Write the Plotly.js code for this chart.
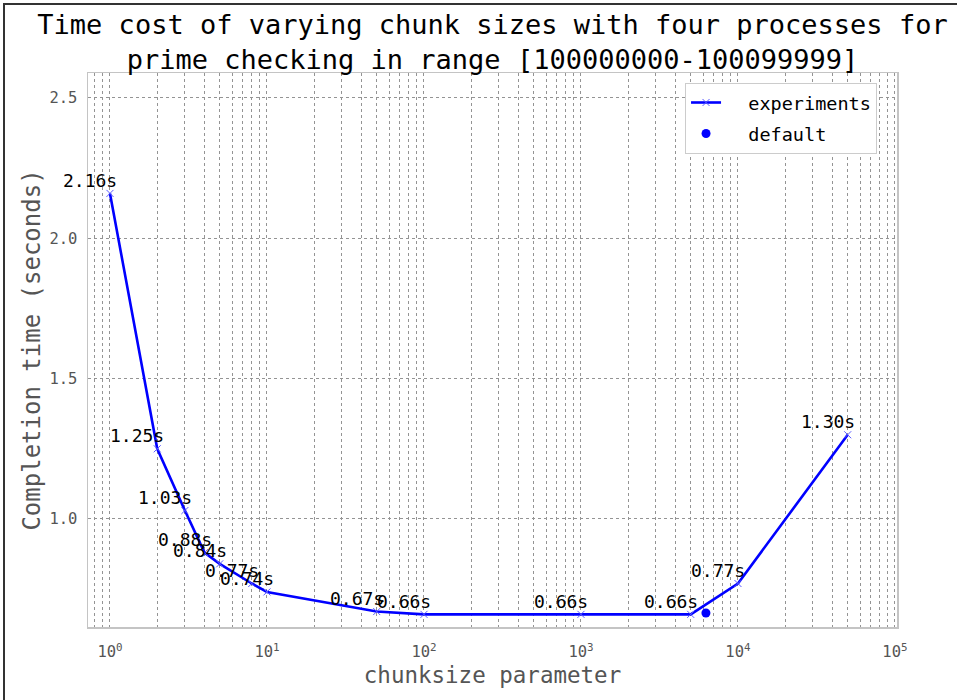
<!DOCTYPE html>
<html>
<head>
<meta charset="utf-8">
<script src="https://cdn.plot.ly/plotly-3.0.1.min.js"></script>
<style>
  html, body { margin: 0; padding: 0; background: #fff; }
  #chart { width: 957px; height: 700px; }
  #frame { position: absolute; left: 3px; top: 3px; width: 960px; height: 700px;
           border-left: 2px solid #333; border-top: 2px solid #333; pointer-events: none; }
</style>
</head>
<body>
<div id="chart"></div>
<div id="frame"></div>
<script>
// ---- data ----
const chunkSizes = [1, 2, 3, 4, 5, 8, 10, 50, 100, 1000, 5000, 10000, 50000];
const times = [2.16, 1.25, 1.03, 0.88, 0.84, 0.77, 0.74, 0.67, 0.66, 0.66, 0.66, 0.77, 1.30];
const defaultChunk = [6250];
const defaultTime = [0.665];
const seriesNames = ['experiments', 'default'];
const xTickVals = [1, 10, 100, 1000, 10000, 100000];
const xTickText = ['10<sup>0</sup>', '10<sup>1</sup>', '10<sup>2</sup>', '10<sup>3</sup>', '10<sup>4</sup>', '10<sup>5</sup>'];
const yTickVals = [1.0, 1.5, 2.0, 2.5];
const yTickText = ['1.0', '1.5', '2.0', '2.5'];

const mono = 'DejaVu Sans Mono, Liberation Mono, monospace';
const pad = '\u00a0\u00a0';

const traces = [
  {
    x: chunkSizes, y: times, type: 'scatter', mode: 'lines+markers', name: pad + seriesNames[0],
    legendgroup: 'a',
    line: { color: '#0000ff', width: 2.6 },
    marker: { symbol: 'x-thin', size: 7, color: '#5a5aff', line: { width: 1, color: '#5a5aff' } },
    cliponaxis: false
  },
  {
    x: defaultChunk, y: defaultTime, type: 'scatter', mode: 'markers', name: pad + seriesNames[1],
    legendgroup: 'b',
    marker: { symbol: 'circle', size: 9, color: '#0000ff' }
  }
];

const annotations = chunkSizes.map((c, i) => ({
  x: Math.log10(c), y: times[i], xref: 'x', yref: 'y',
  text: times[i].toFixed(2) + 's', showarrow: false,
  xshift: -20, yshift: 13,
  font: { family: mono, size: 18, color: '#000' }
}));

const gridCol = '#949494';
const layout = {
  width: 957, height: 700,
  paper_bgcolor: '#fff', plot_bgcolor: '#fff',
  margin: { l: 88, r: 60, t: 73, b: 73 },
  font: { family: mono, color: '#000' },
  title: {
    text: 'Time cost of varying chunk sizes with four processes for<br>prime checking in range [100000000-100099999]',
    font: { family: mono, size: 27, color: '#000' },
    x: 0.5, xref: 'paper', xanchor: 'center',
    y: 1 - 34 / 700, yref: 'container', yanchor: 'top'
  },
  xaxis: {
    type: 'log', range: [-0.14, 5.013],
    tickmode: 'array', tickvals: xTickVals, ticktext: xTickText,
    tickfont: { family: mono, size: 15.5, color: '#555' },
    ticks: '', ticklabelstandoff: 10,
    showgrid: true, gridcolor: gridCol, griddash: 'dot', gridwidth: 1,
    minor: { dtick: 'D1', showgrid: true, gridcolor: gridCol, griddash: 'dot', gridwidth: 1, ticks: '' },
    showline: true, linecolor: '#c4c4c4', linewidth: 1.5, mirror: true,
    zeroline: false,
    title: { text: 'chunksize parameter', font: { family: mono, size: 22.5, color: '#555' }, standoff: 7 }
  },
  yaxis: {
    range: [0.615, 2.589],
    tickmode: 'array', tickvals: yTickVals, ticktext: yTickText,
    tickfont: { family: mono, size: 15.5, color: '#555' },
    ticks: '', ticklabelstandoff: 6,
    showgrid: true, gridcolor: gridCol, griddash: 'dot', gridwidth: 1,
    showline: true, linecolor: '#c4c4c4', linewidth: 1.5, mirror: true,
    zeroline: false,
    title: { text: 'Completion time (seconds)', font: { family: mono, size: 24, color: '#555' }, standoff: 2 }
  },
  legend: {
    x: 0.738, y: 0.982, xanchor: 'left', yanchor: 'top',
    bgcolor: '#fff', bordercolor: '#cccccc', borderwidth: 1,
    font: { family: mono, size: 18.5, color: '#000' },
    tracegroupgap: 4
  },
  showlegend: true,
  annotations: annotations
};

Plotly.newPlot('chart', traces, layout, { displayModeBar: false, staticPlot: true });
</script>
</body>
</html>
